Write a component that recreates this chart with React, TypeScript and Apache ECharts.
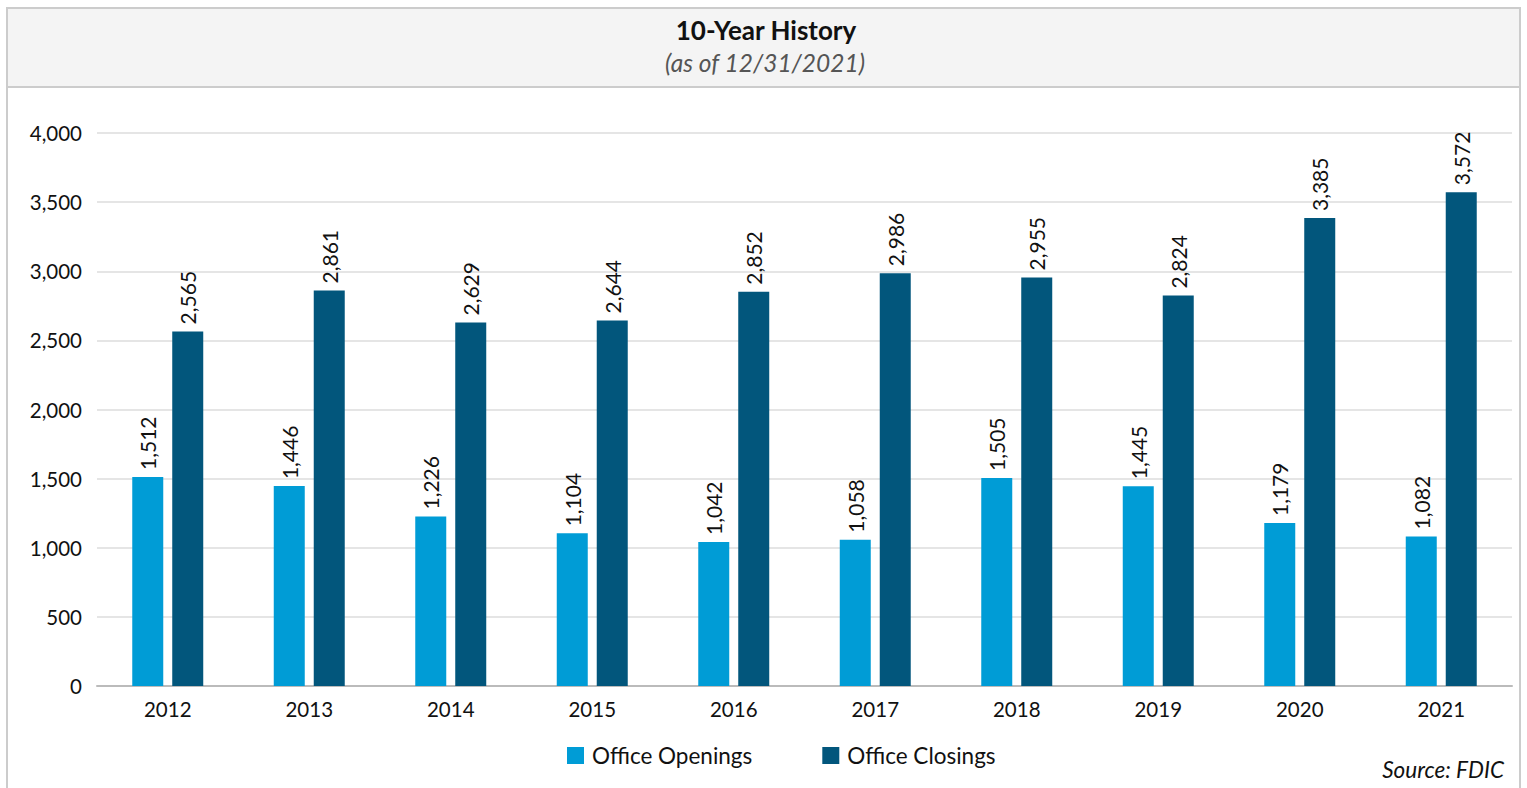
import React, { useEffect, useRef } from "react";
import * as echarts from "echarts";

const years = ["2012", "2013", "2014", "2015", "2016", "2017", "2018", "2019", "2020", "2021"];
const openings = [1512, 1446, 1226, 1104, 1042, 1058, 1505, 1445, 1179, 1082];
const closings = [2565, 2861, 2629, 2644, 2852, 2986, 2955, 2824, 3385, 3572];
const seriesNames = ["Office Openings", "Office Closings"];
const titleText = "10-Year History";
const subtitleText = "(as of 12/31/2021)";
const sourceText = "Source: FDIC";

const FONT = "Lato, 'Noto Sans', sans-serif";

export default function App() {
  const ref = useRef<HTMLDivElement>(null);
  useEffect(() => {
    if (!ref.current) return;
    const chart = echarts.init(ref.current, undefined, { renderer: "svg" });
    const fmt = (v: number) => v.toLocaleString("en-US");
    const labelCfg = {
      show: true,
      position: "top",
      rotate: 90,
      align: "left",
      verticalAlign: "middle",
      distance: 7,
      fontSize: 21,
      fontFamily: FONT,
      color: "#111",
      formatter: (p: any) => fmt(p.value),
    };
    chart.setOption({
      animation: false,
      backgroundColor: "#fff",
      textStyle: { fontFamily: FONT },
      graphic: [
        { type: "rect", shape: { x: 7, y: 8, width: 1513, height: 800 }, style: { fill: "none", stroke: "#cccccc", lineWidth: 2 }, z: -1 },
        { type: "rect", shape: { x: 7, y: 8, width: 1513, height: 79 }, style: { fill: "#f4f4f4", stroke: "#cccccc", lineWidth: 2 }, z: -1 },
        { type: "text", x: 766, y: 30, style: { text: titleText, fontSize: 26, fontWeight: "bold", fontFamily: FONT, fill: "#111", textAlign: "center", textVerticalAlign: "middle" } },
        { type: "text", x: 765, y: 62, style: { text: subtitleText, fontSize: 24.5, fontStyle: "italic", fontFamily: FONT, fill: "#555", textAlign: "center", textVerticalAlign: "middle" } },
        { type: "text", x: 1504, y: 769, style: { text: sourceText, fontSize: 22.5, fontStyle: "italic", fontFamily: FONT, fill: "#111", textAlign: "right", textVerticalAlign: "middle" } },
      ],
      legend: {
        data: seriesNames,
        left: 562,
        top: 739,
        itemWidth: 17,
        itemHeight: 17,
        itemGap: 70,
        icon: "rect",
        textStyle: { fontSize: 22.5, fontFamily: FONT, color: "#111", padding: [0, 0, 0, 3] },
      },
      grid: { left: 97, right: 15, top: 133, bottom: 102, containLabel: false },
      xAxis: {
        type: "category",
        data: years,
        axisLine: { lineStyle: { color: "#bbbbbb", width: 2 } },
        axisTick: { show: false },
        axisLabel: { fontSize: 20.5, fontFamily: FONT, color: "#111", margin: 12 },
      },
      yAxis: {
        type: "value",
        min: 0,
        max: 4000,
        interval: 500,
        axisLine: { show: false },
        axisTick: { show: false },
        axisLabel: { fontSize: 20.5, fontFamily: FONT, color: "#111", margin: 15, formatter: (v: number) => fmt(v) },
        splitLine: { lineStyle: { color: "#dddddd", width: 1.5 } },
      },
      series: [
        { name: seriesNames[0], type: "bar", data: openings, barWidth: 31, barGap: "29%", itemStyle: { color: "#009cd6" }, label: labelCfg },
        { name: seriesNames[1], type: "bar", data: closings, barWidth: 31, itemStyle: { color: "#02567c" }, label: labelCfg },
      ],
    });
    return () => chart.dispose();
  }, []);
  return <div ref={ref} style={{ position: "fixed", left: 0, top: 0, width: 1527, height: 788 }} />;
}
